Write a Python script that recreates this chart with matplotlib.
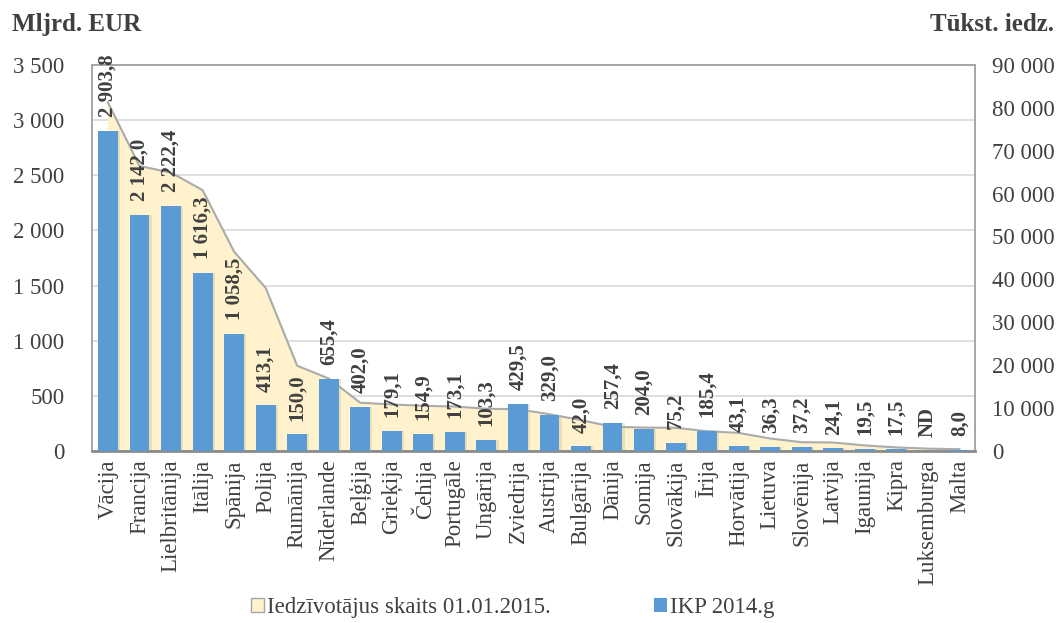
import numpy as np
import matplotlib
matplotlib.use("Agg")
import matplotlib.pyplot as plt
from matplotlib.patches import Patch
import matplotlib.transforms as mtransforms

countries = ["Vācija", "Francija", "Lielbritānija", "Itālija", "Spānija", "Polija",
             "Rumānija", "Nīderlande", "Beļģija", "Grieķija", "Čehija", "Portugāle",
             "Ungārija", "Zviedrija", "Austrija", "Bulgārija", "Dānija", "Somija",
             "Slovākija", "Īrija", "Horvātija", "Lietuva", "Slovēnija", "Latvija",
             "Igaunija", "Kipra", "Luksemburga", "Malta"]
gdp = [2903.8, 2142.0, 2222.4, 1616.3, 1058.5, 413.1, 150.0, 655.4, 402.0, 179.1,
       154.9, 173.1, 103.3, 429.5, 329.0, 42.0, 257.4, 204.0, 75.2, 185.4,
       43.1, 36.3, 37.2, 24.1, 19.5, 17.5, None, 8.0]
population = [81198, 66415, 64875, 60796, 46450, 38006, 19871, 16901, 11258, 10858,
              10538, 10375, 9856, 9747, 8576, 7202, 5660, 5472, 5421, 4628,
              4225, 2921, 2063, 1986, 1313, 847, 563, 429]
left_ticks = [0, 500, 1000, 1500, 2000, 2500, 3000, 3500]
right_ticks = list(range(0, 90001, 10000))

def fmt(v, dec=0):
    s = f"{v:,.{dec}f}"
    return s.replace(",", " ").replace(".", ",")

plt.rcParams['font.family'] = ['Liberation Serif', 'DejaVu Serif']
txt = "#404040"

fig = plt.figure(figsize=(10.6, 6.23), dpi=100)
ax = fig.add_axes([0.087, 0.276, 0.833, 0.62])
ax2 = ax.twinx()
ax.set_zorder(2)
ax.patch.set_visible(False)
ax2.set_zorder(1)

x = np.arange(len(countries))

# gridlines follow the left axis but sit behind the area
trans = mtransforms.blended_transform_factory(ax2.transAxes, ax.transData)
for t in left_ticks[1:]:
    ax2.plot([0, 1], [t, t], transform=trans, color="#D9D9D9", lw=1.2, zorder=0)

ax2.fill_between(x, population, 0, color="#FFF2CC", zorder=1)
ax2.plot(x, population, color="#ABABAB", lw=1.5, zorder=2)
ax2.set_ylim(0, 90000)
ax2.set_yticks(right_ticks)
ax2.set_yticklabels([fmt(v) for v in right_ticks], color=txt, fontsize=16.5)

vals = [v if v is not None else 0 for v in gdp]
ax.bar(x + 0.07, vals, width=0.63, color="#C8B98E", alpha=0.35, zorder=2)
ax.bar(x, vals, width=0.63, color="#5B9BD5", zorder=3)
for xi, v in zip(x, gdp):
    lab = "ND" if v is None else fmt(v, 1)
    h = 0 if v is None else v
    ax.annotate(lab, (xi, h), xytext=(0, 10), textcoords="offset points",
                rotation=90, ha="center", va="bottom",
                fontsize=15, fontweight="bold", color=txt, zorder=4)

ax.set_xlim(-0.5, len(countries) - 0.5)
ax.set_ylim(0, 3500)
ax.set_yticks(left_ticks)
ax.set_yticklabels([fmt(v) for v in left_ticks], color=txt, fontsize=16.5)
ax.set_xticks(x)
ax.set_xticklabels(countries, rotation=90, color=txt, fontsize=16.5)
ax.tick_params(axis="x", length=0, pad=6)
ax.tick_params(axis="y", length=0, pad=20)
ax2.tick_params(length=0, pad=12)

for a in (ax, ax2):
    for s in a.spines.values():
        s.set_color("#A6A6A6")
        s.set_linewidth(1.2)
ax.spines["bottom"].set_color("#8C8C8C")
ax.spines["bottom"].set_linewidth(2)

fig.text(0.011, 0.96, "Mljrd. EUR", fontsize=18, fontweight="bold", color=txt,
         ha="left", va="center")
fig.text(0.994, 0.96, "Tūkst. iedz.", fontsize=18, fontweight="bold", color=txt,
         ha="right", va="center")

handles = [Patch(facecolor="#FFF2CC", edgecolor="#A6A6A6", label="Iedzīvotājus skaits 01.01.2015."),
           Patch(facecolor="#5B9BD5", label="IKP 2014.g")]
fig.legend(handles=handles, loc="center", bbox_to_anchor=(0.484, 0.025), ncol=2,
           frameon=False, fontsize=16.5, handlelength=0.55, handleheight=0.55,
           handletextpad=0.15, columnspacing=4.5, labelcolor=txt)

fig.savefig("out.png", dpi=100)
